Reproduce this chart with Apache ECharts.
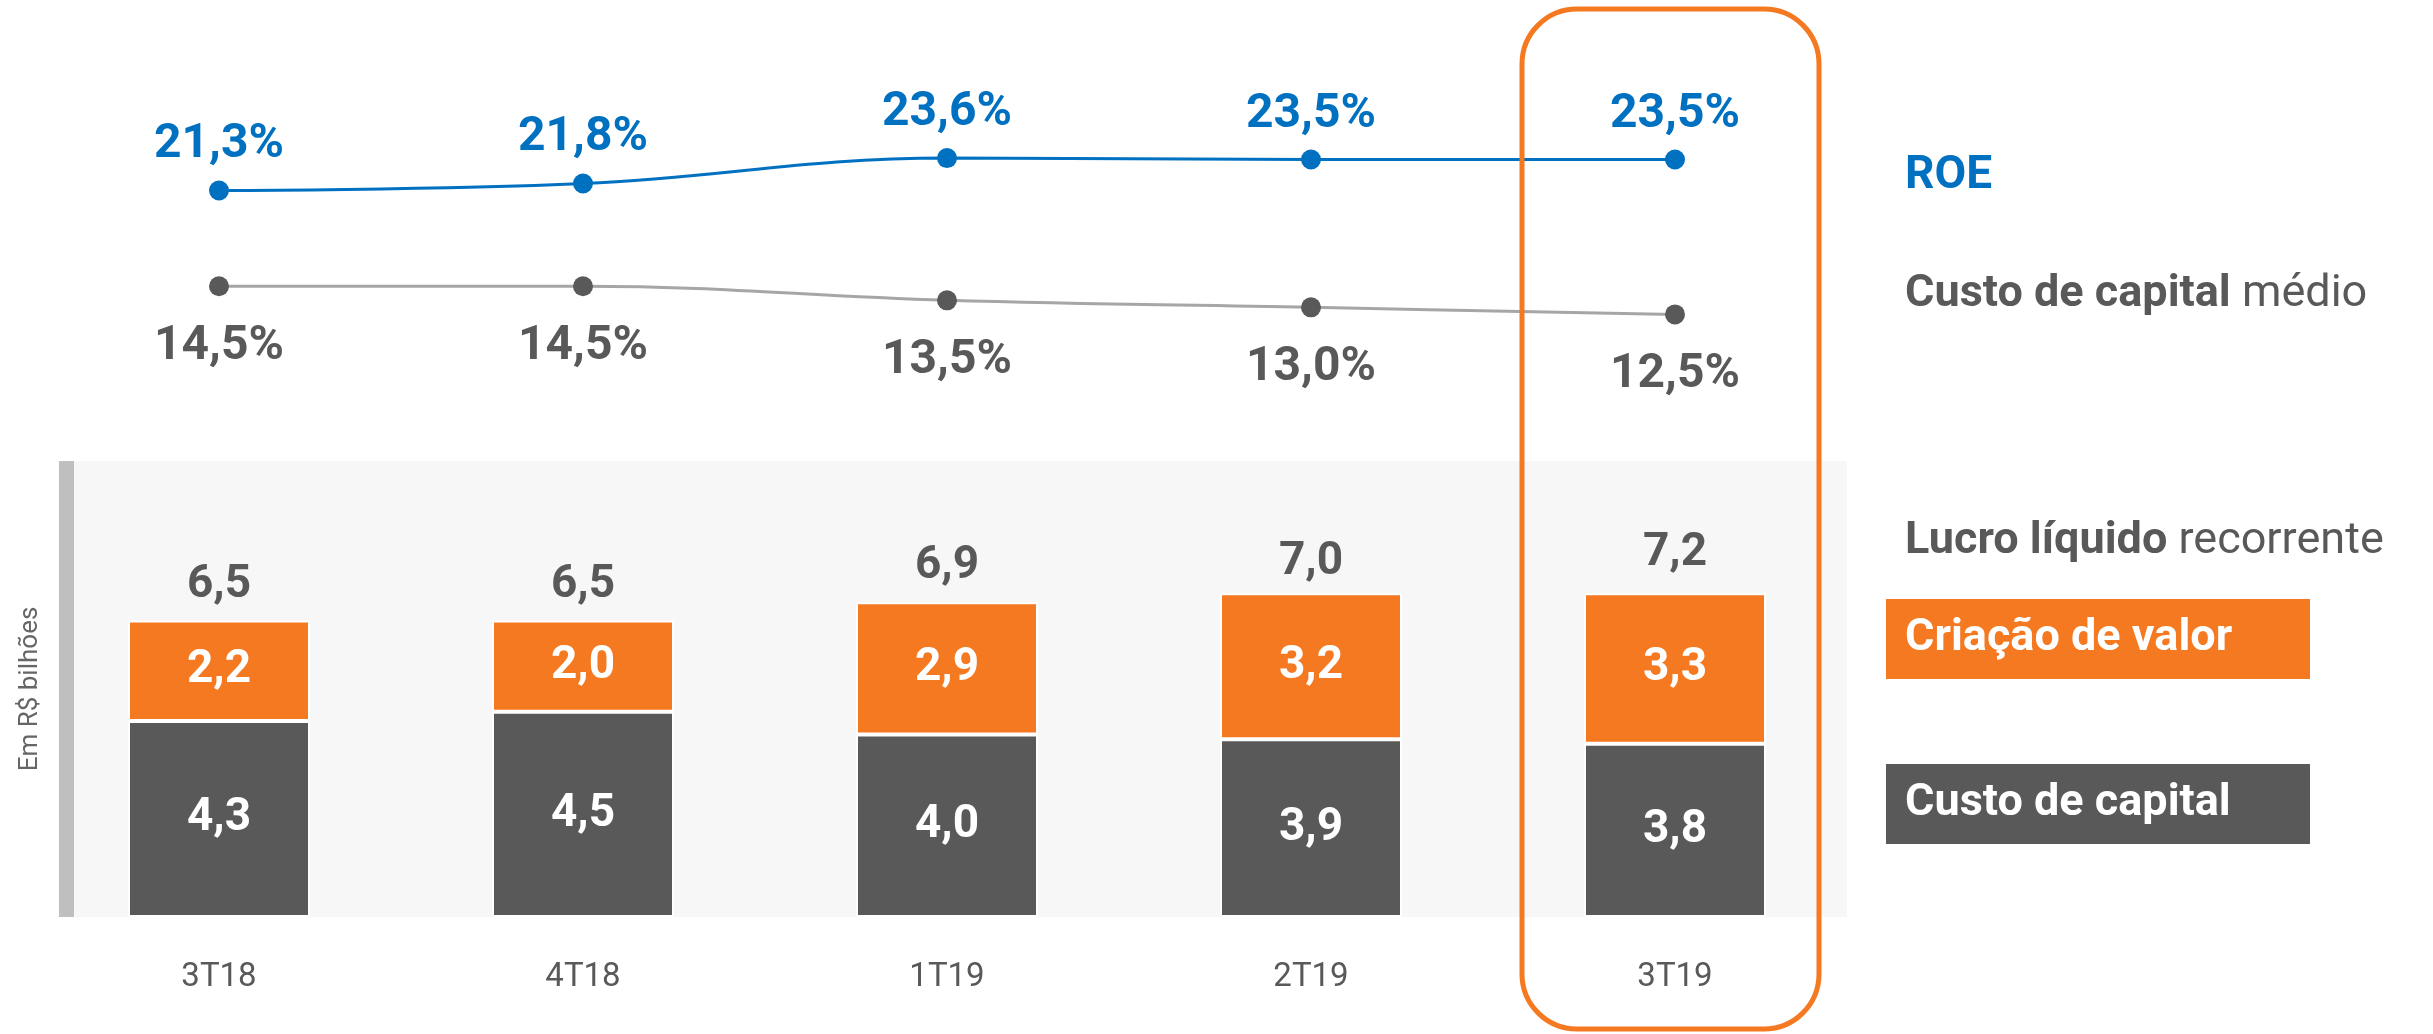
<!DOCTYPE html>
<html>
<head>
<meta charset="utf-8">
<script src="https://cdn.jsdelivr.net/npm/echarts@6/dist/echarts.min.js"></script>
<style>
  html, body { margin: 0; padding: 0; background: #fff; }
  #chart { width: 2433px; height: 1034px; }
</style>
</head>
<body>
<div id="chart"></div>
<script>
// dados
var categorias = ['3T18', '4T18', '1T19', '2T19', '3T19']
var roe = [21.3, 21.8, 23.6, 23.5, 23.5]
var custoMedio = [14.5, 14.5, 13.5, 13.0, 12.5]
var custoCapital = [4.3, 4.5, 4.0, 3.9, 3.8]
var criacaoValor = [2.2, 2.0, 2.9, 3.2, 3.3]
var lucroRecorrente = [6.5, 6.5, 6.9, 7.0, 7.2]

var laranja = '#F47920'
var cinza = '#595959'
var azul = '#0070C0'
var fonte = 'Roboto'

function virgula (v, dec) {
  return v.toFixed(dec).replace('.', ',')
}

var chart = echarts.init(document.getElementById('chart'))

var option = {
  animation: false,
  textStyle: { fontFamily: fonte },
  grid: [
    { left: 37, top: 68, width: 1820, height: 352 },
    { left: 37, top: 461, width: 1820, height: 456 }
  ],
  xAxis: [
    { gridIndex: 0, type: 'category', data: categorias, show: false },
    {
      gridIndex: 1,
      type: 'category',
      data: categorias,
      axisLine: { show: false },
      axisTick: { show: false },
      axisLabel: { margin: 44, fontSize: 33, color: cinza, fontFamily: fonte }
    }
  ],
  yAxis: [
    { gridIndex: 0, type: 'value', min: 5, max: 30, show: false },
    {
      gridIndex: 1,
      type: 'value',
      min: 0,
      max: 10,
      axisLine: { show: false },
      axisTick: { show: false },
      axisLabel: { show: false },
      splitLine: { show: false },
      name: 'Em R$ bilhões',
      nameLocation: 'middle',
      nameGap: -6,
      nameRotate: 90,
      nameTextStyle: { fontSize: 26, color: '#666', fontFamily: fonte }
    }
  ],
  graphic: [
    // fundo cinza da área de barras
    { type: 'rect', z: -10, shape: { x: 74, y: 461, width: 1773, height: 456 }, style: { fill: '#F7F7F7' } },
    { type: 'rect', z: -10, shape: { x: 59, y: 461, width: 15, height: 456 }, style: { fill: '#BFBFBF' } },
    // destaque 3T19
    {
      type: 'rect', z: 100,
      shape: { x: 1522, y: 9, width: 297, height: 1020, r: 55 },
      style: { fill: 'none', stroke: laranja, lineWidth: 5 }
    },
    // legendas
    {
      type: 'text', z: 100, x: 1905, y: 176,
      style: { text: 'ROE', fill: azul, font: 'bold 46px ' + fonte, verticalAlign: 'middle' }
    },
    {
      type: 'text', z: 100, x: 1905, y: 295,
      style: {
        text: '{b|Custo de capital }{n|médio}',
        verticalAlign: 'middle',
        rich: {
          b: { fontFamily: fonte, fontWeight: 'bold', fontSize: 45, fill: cinza },
          n: { fontFamily: fonte, fontSize: 45, fill: cinza }
        }
      }
    },
    {
      type: 'text', z: 100, x: 1905, y: 542,
      style: {
        text: '{b|Lucro líquido }{n|recorrente}',
        verticalAlign: 'middle',
        rich: {
          b: { fontFamily: fonte, fontWeight: 'bold', fontSize: 45, fill: cinza },
          n: { fontFamily: fonte, fontSize: 45, fill: cinza }
        }
      }
    },
    { type: 'rect', z: 100, shape: { x: 1886, y: 599, width: 424, height: 80 }, style: { fill: laranja } },
    {
      type: 'text', z: 101, x: 1905, y: 639,
      style: { text: 'Criação de valor', fill: '#fff', font: 'bold 45px ' + fonte, verticalAlign: 'middle' }
    },
    { type: 'rect', z: 100, shape: { x: 1886, y: 764, width: 424, height: 80 }, style: { fill: cinza } },
    {
      type: 'text', z: 101, x: 1905, y: 804,
      style: { text: 'Custo de capital', fill: '#fff', font: 'bold 45px ' + fonte, verticalAlign: 'middle' }
    }
  ],
  series: [
    {
      name: 'ROE',
      type: 'line',
      xAxisIndex: 0,
      yAxisIndex: 0,
      data: roe,
      smooth: 0.4,
      symbol: 'circle',
      symbolSize: 20,
      lineStyle: { color: azul, width: 3 },
      itemStyle: { color: azul },
      label: {
        show: true,
        position: 'top',
        distance: 11,
        fontSize: 48,
        fontWeight: 'bold',
        color: azul,
        formatter: function (p) { return virgula(p.value, 1) + '%' }
      }
    },
    {
      name: 'Custo de capital médio',
      type: 'line',
      xAxisIndex: 0,
      yAxisIndex: 0,
      data: custoMedio,
      smooth: 0.4,
      symbol: 'circle',
      symbolSize: 20,
      lineStyle: { color: '#A6A6A6', width: 3 },
      itemStyle: { color: cinza },
      label: {
        show: true,
        position: 'bottom',
        distance: 27,
        fontSize: 48,
        fontWeight: 'bold',
        color: cinza,
        formatter: function (p) { return virgula(p.value, 1) + '%' }
      }
    },
    {
      name: 'Custo de capital',
      type: 'bar',
      xAxisIndex: 1,
      yAxisIndex: 1,
      stack: 'lucro',
      barWidth: 182,
      data: custoCapital,
      itemStyle: { color: cinza, borderColor: '#fff', borderWidth: 2 },
      label: {
        show: true,
        position: 'inside',
        fontSize: 46,
        fontWeight: 'bold',
        color: '#fff',
        formatter: function (p) { return virgula(p.value, 1) }
      }
    },
    {
      name: 'Criação de valor',
      type: 'bar',
      xAxisIndex: 1,
      yAxisIndex: 1,
      stack: 'lucro',
      barWidth: 182,
      data: criacaoValor,
      itemStyle: { color: laranja, borderColor: '#fff', borderWidth: 2 },
      label: {
        show: true,
        position: 'inside',
        fontSize: 46,
        fontWeight: 'bold',
        color: '#fff',
        formatter: function (p) { return virgula(p.value, 1) }
      }
    },
    {
      name: 'Lucro líquido recorrente',
      type: 'scatter',
      xAxisIndex: 1,
      yAxisIndex: 1,
      data: lucroRecorrente,
      symbolSize: 1,
      itemStyle: { color: 'transparent', opacity: 1 },
      label: {
        show: true,
        position: 'top',
        distance: 12,
        fontSize: 46,
        fontWeight: 'bold',
        color: cinza,
        formatter: function (p) { return virgula(p.value, 1) }
      }
    }
  ]
}

chart.setOption(option)
</script>
</body>
</html>
